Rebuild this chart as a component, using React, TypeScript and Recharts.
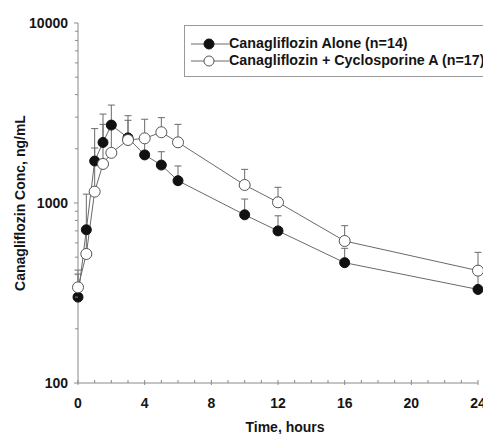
import React from 'react';
import { LineChart, Line, XAxis, YAxis, ErrorBar, Legend } from 'recharts';

const TIMES = [0, 0.5, 1, 1.5, 2, 3, 4, 5, 6, 10, 12, 16, 24];
const ALONE = [300, 710, 1710, 2170, 2710, 2300, 1850, 1625, 1330, 860, 700, 466, 331];
const ALONE_UPPER = [403, 1120, 2590, 3120, 3500, 3055, 2250, 1927, 1606, 1052, 849, 560, 400];
const CYCLO = [340, 521, 1156, 1648, 1900, 2239, 2287, 2472, 2173, 1259, 1009, 615, 421];
const CYCLO_UPPER = [424, 690, 2021, 2735, 2600, 2880, 2920, 2980, 2735, 1538, 1222, 748, 532];

const X_TICKS = [0, 1, 2, 3, 4, 5, 6, 7, 8, 9, 10, 11, 12, 13, 14, 15, 16, 17, 18, 19, 20, 21, 22, 23, 24];
const X_LABELED = [0, 4, 8, 12, 16, 20, 24];
const Y_TICKS = [100, 200, 300, 400, 500, 600, 700, 800, 900, 1000, 2000, 3000, 4000, 5000, 6000, 7000, 8000, 9000, 10000];
const Y_LABELED = [100, 1000, 10000];

const SERIES_A = 'Canagliflozin Alone (n=14)';
const SERIES_C = 'Canagliflozin + Cyclosporine A (n=17)';

const data = TIMES.map((t, i) => ({
  t,
  alone: ALONE[i],
  cyclo: CYCLO[i],
  errA: [0, ALONE_UPPER[i] - ALONE[i]],
  errC: [0, CYCLO_UPPER[i] - CYCLO[i]],
}));

const FONT = '"Liberation Sans", Arial, Helvetica, sans-serif';
const AXIS = '#8a8a8a';
const LINE = '#6a6a6a';
const TEXT = '#151515';

const YTick = (props: any) => {
  const { x, y, payload } = props;
  const major = Y_LABELED.includes(payload.value);
  return (
    <g>
      <line x1={x - (major ? 4 : 3)} x2={x} y1={y} y2={y} stroke={AXIS} strokeWidth={1} />
      {major && (
        <text x={x - 10} y={y + 5} textAnchor="end" fontFamily={FONT} fontWeight="bold" fontSize={14} fill={TEXT}>
          {payload.value}
        </text>
      )}
    </g>
  );
};

const XTick = (props: any) => {
  const { x, y, payload } = props;
  const major = X_LABELED.includes(payload.value);
  return (
    <g>
      <line x1={x} x2={x} y1={y - 3} y2={y + (major ? 2 : 0)} stroke={AXIS} strokeWidth={1} />
      {major && (
        <text x={x} y={y + 25} textAnchor="middle" fontFamily={FONT} fontWeight="bold" fontSize={14} fill={TEXT}>
          {payload.value}
        </text>
      )}
    </g>
  );
};

const LegendContent = () => (
  <div
    style={{
      border: '1px solid #999',
      background: '#fff',
      padding: '9px 0 7px 6px',
      fontFamily: FONT,
      fontWeight: 'bold',
      fontSize: 14.3,
      color: TEXT,
      whiteSpace: 'nowrap',
      lineHeight: '17px',
    }}
  >
    {[
      { name: SERIES_A, fill: '#111', stroke: '#111' },
      { name: SERIES_C, fill: '#fff', stroke: '#555' },
    ].map((s) => (
      <div key={s.name} style={{ display: 'flex', alignItems: 'center', height: 17 }}>
        <svg width={38} height={14} style={{ display: 'block' }}>
          <line x1={0} x2={38} y1={7} y2={7} stroke={LINE} strokeWidth={1} />
          <circle cx={18} cy={7} r={5} fill={s.fill} stroke={s.stroke} strokeWidth={1} />
        </svg>
        <span>{s.name}</span>
      </div>
    ))}
  </div>
);

const YLabel = (props: any) => {
  const { viewBox } = props;
  const cx = viewBox.x + 12;
  const cy = viewBox.y + viewBox.height / 2;
  return (
    <text
      x={cx}
      y={cy}
      transform={`rotate(-90, ${cx}, ${cy})`}
      textAnchor="middle"
      dominantBaseline="central"
      fontFamily={FONT}
      fontWeight="bold"
      fontSize={14}
      fill={TEXT}
    >
      Canagliflozin Conc, ng/mL
    </text>
  );
};

const XLabel = (props: any) => {
  const { viewBox } = props;
  return (
    <text
      x={viewBox.x + viewBox.width / 2 + 7}
      y={viewBox.y + 49}
      textAnchor="middle"
      fontFamily={FONT}
      fontWeight="bold"
      fontSize={14}
      fill={TEXT}
    >
      Time, hours
    </text>
  );
};

export default function App() {
  return (
    <div style={{ position: 'absolute', left: 0, top: 0, width: 483, height: 434, overflow: 'hidden', background: '#fff' }}>
      <LineChart width={483} height={434} data={data} margin={{ top: 23, right: 5, left: 8, bottom: 0 }}>
        <XAxis
          dataKey="t"
          type="number"
          domain={[0, 24]}
          ticks={X_TICKS}
          interval={0}
          tickSize={0}
          tickMargin={0}
          tickLine={false}
          height={51}
          axisLine={{ stroke: AXIS, strokeWidth: 1 }}
          tick={<XTick />}
          label={<XLabel />}
        />
        <YAxis
          type="number"
          scale="log"
          domain={[100, 10000]}
          ticks={Y_TICKS}
          interval={0}
          tickSize={0}
          tickMargin={0}
          tickLine={false}
          width={70}
          axisLine={{ stroke: AXIS, strokeWidth: 1 }}
          tick={<YTick />}
          label={<YLabel />}
        />
        <Legend
          layout="horizontal"
          verticalAlign="middle"
          align="center"
          content={<LegendContent />}
          wrapperStyle={{ left: 184, top: 25, width: 420 }}
        />
        <Line
          dataKey="alone"
          name={SERIES_A}
          stroke={LINE}
          strokeWidth={1}
          dot={false}
          activeDot={false}
          isAnimationActive={false}
          legendType="none"
        >
          <ErrorBar dataKey="errA" direction="y" width={3.5} stroke={LINE} strokeWidth={1} />
        </Line>
        <Line
          dataKey="cyclo"
          name={SERIES_C}
          stroke={LINE}
          strokeWidth={1}
          dot={false}
          activeDot={false}
          isAnimationActive={false}
          legendType="none"
        >
          <ErrorBar dataKey="errC" direction="y" width={3.5} stroke={LINE} strokeWidth={1} />
        </Line>
        <Line
          dataKey="alone"
          stroke="none"
          dot={{ r: 5, fill: '#111', stroke: '#111', strokeWidth: 1 }}
          activeDot={false}
          isAnimationActive={false}
          legendType="none"
        />
        <Line
          dataKey="cyclo"
          stroke="none"
          dot={{ r: 5.5, fill: '#fff', stroke: '#555', strokeWidth: 1 }}
          activeDot={false}
          isAnimationActive={false}
          legendType="none"
        />
      </LineChart>
    </div>
  );
}
